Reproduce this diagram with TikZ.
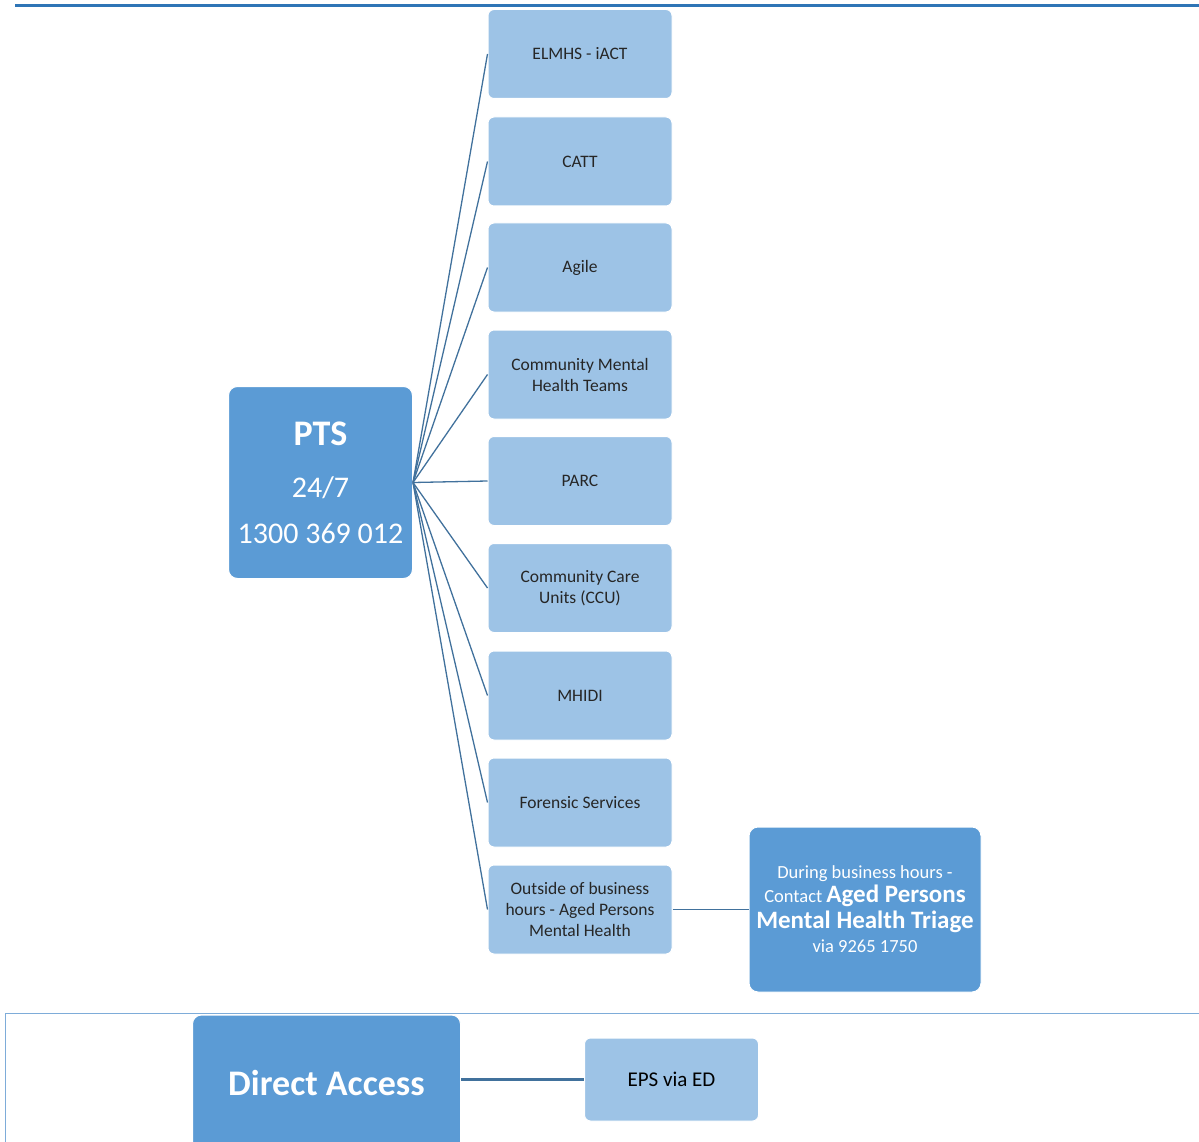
\documentclass[tikz,border=0pt]{standalone}
\usepackage{fontspec}
\setmainfont{Carlito}
\definecolor{darkbox}{HTML}{5B9BD5}
\definecolor{lightbox}{HTML}{9DC3E6}
\definecolor{conn}{HTML}{41719C}
\definecolor{topline}{HTML}{2E75B6}
\definecolor{frameline}{HTML}{7EACD9}
\definecolor{childtxt}{HTML}{262626}
\tikzset{
  darkbox/.style={fill=darkbox, draw=white, line width=1pt, rounded corners=9pt, text=white, align=center, inner sep=2pt},
  childbox/.style={fill=lightbox, draw=white, line width=1pt, rounded corners=6pt, minimum width=184pt, minimum height=89pt, text=childtxt, align=center, inner sep=2pt, font=\fontsize{17.5}{21}\selectfont},
  connector/.style={draw=conn, line width=1.3pt},
}
\begin{document}
\begin{tikzpicture}[x=1pt,y=-1pt]
\useasboundingbox (0,0) rectangle (1199,1142);
\begin{scope}
\clip (0,0) rectangle (1199,1142);
% frame lines
\draw[topline, line width=2.5pt] (15,5.5) -- (1199,5.5);
\draw[frameline, line width=1.5pt] (1199,1013.5) -- (5.5,1013.5) -- (5.5,1142);

% PTS
\node[darkbox, minimum width=184pt, minimum height=192pt, font=\fontsize{30}{50}\selectfont] (pts) at (320.5,482.5)
  {{\fontsize{36}{50}\selectfont\bfseries PTS}\\[2pt]24/7\\[-4pt]1300 369 012};

% children
\node[childbox] (c1) at (580,54) {ELMHS - iACT};
\node[childbox] (c2) at (580,161.5) {CATT};
\node[childbox] (c3) at (580,267.5) {Agile};
\node[childbox] (c4) at (580,374.5) {Community Mental\\Health Teams};
\node[childbox] (c5) at (580,481) {PARC};
\node[childbox] (c6) at (580,588) {Community Care\\Units (CCU)};
\node[childbox] (c7) at (580,695.5) {MHIDI};
\node[childbox] (c8) at (580,802.5) {Forensic Services};
\node[childbox] (c9) at (580,909.5) {Outside of business\\hours - Aged Persons\\Mental Health};

\foreach \c in {c1,c2,c3,c4,c5,c6,c7,c8,c9}
  \draw[connector] (pts.east) -- (\c.west);

% aged persons
\node[darkbox, minimum width=232pt, minimum height=165pt] (aged) at (865,909.5) {};
\node[text=white, align=center, inner sep=0pt, font=\fontsize{18.5}{24}\selectfont] (agedtext) at (865,909)
  {During business hours -\\[0pt]Contact {\fontsize{25}{27}\selectfont\bfseries Aged Persons}\\[2pt]
   {\fontsize{25}{27}\selectfont\bfseries Mental Health Triage}\\[0pt] via 9265 1750};
\draw[connector, line width=1pt] (c9.east) -- (aged.west);

% direct access
\node[darkbox, minimum width=268pt, minimum height=150pt] (da) at (326.5,1090) {};
\node[text=white, font=\fontsize{36}{40}\selectfont\bfseries] (datext) at (326.5,1083) {Direct Access};
\node[childbox, minimum width=174pt, minimum height=83pt, text=black, font=\fontsize{21}{24}\selectfont] (eps) at (671.5,1079.5) {EPS via ED};
\draw[connector, line width=2.6pt] (da.east |- eps.west) -- (eps.west);
\end{scope}
\end{tikzpicture}
\end{document}
